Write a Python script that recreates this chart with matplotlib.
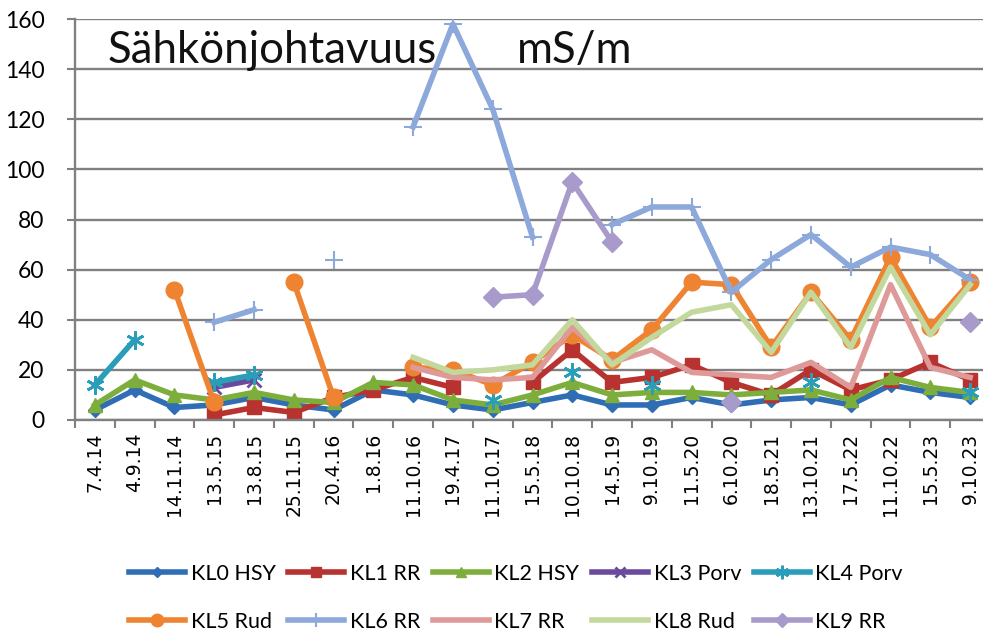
import numpy as np
import matplotlib
matplotlib.use("Agg")
import matplotlib.pyplot as plt
from matplotlib.ticker import MultipleLocator, FixedLocator

n = None

# sampling dates (x categories)
dates = ['7.4.14', '4.9.14', '14.11.14', '13.5.15', '13.8.15', '25.11.15', '20.4.16',
         '1.8.16', '11.10.16', '19.4.17', '11.10.17', '15.5.18', '10.10.18', '14.5.19',
         '9.10.19', '11.5.20', '6.10.20', '18.5.21', '13.10.21', '17.5.22', '11.10.22',
         '15.5.23', '9.10.23']

# conductivity, mS/m (None = no sample)
kl0_hsy = [4, 12, 5, 6, 9, 6, 4, 12, 10, 6, 4, 7, 10, 6, 6, 9, 6, 8, 9, 6, 14, 11, 9]
kl1_rr = [n, n, n, 2, 5, 3, 9, 12, 17, 13, n, 15, 28, 15, 17, 22, 15, 10, 20, 12, 16, 23, 16]
kl2_hsy = [6, 16, 10, 8, 11, 8, 7, 15, 14, 8, 6, 10, 15, 10, 11, 11, 10, 11, 12, 8, 17, 13, 11]
kl3_porv = [n, n, n, 13, 16, n, n, n, n, n, n, n, n, n, n, n, n, n, n, n, n, n, n]
kl4_porv = [14, 32, n, 15, 18, n, n, n, n, n, 8, n, 19, n, 14, n, n, n, 15, n, n, n, 11]
kl5_rud = [n, n, 52, 7, n, 55, 9, n, 21, 20, 14, 23, 34, 24, 36, 55, 54, 29, 51, 32, 65, 37, 55]
kl6_rr = [n, n, n, 39, 44, n, 64, n, 117, 158, 124, 73, n, 78, 85, 85, 51, 64, 74, 61, 69, 66, 56]
kl7_rr = [n, n, n, n, n, n, n, n, 21, 17, 16, 17, 37, 23, 28, 19, 18, 17, 23, 13, 54, 21, 17]
kl8_rud = [n, n, n, n, n, n, n, n, 25, 19, 20, 22, 40, 22, 33, 43, 46, 27, 51, 29, 61, 34, 54]
kl9_rr = [n, n, n, n, n, n, n, n, n, n, 49, 50, 95, 71, n, n, 7, n, n, n, n, n, 39]

series = [
    ('KL0 HSY', kl0_hsy, '#2F6DB5', dict(marker='D', ms=7)),
    ('KL1 RR', kl1_rr, '#B8322F', dict(marker='s', ms=10)),
    ('KL2 HSY', kl2_hsy, '#7DAE3C', dict(marker='^', ms=10)),
    ('KL3 Porv', kl3_porv, '#6A4A9C', dict(marker='x', ms=10, mew=2)),
    ('KL4 Porv', kl4_porv, '#2A9DB8', dict(marker=(6, 2, 0), ms=13, mew=2)),
    ('KL5 Rud', kl5_rud, '#EE8332', dict(marker='o', ms=12)),
    ('KL6 RR', kl6_rr, '#8DA8DA', dict(marker='+', ms=13, mew=1.5)),
    ('KL7 RR', kl7_rr, '#DE9A99', dict(marker='None')),
    ('KL8 Rud', kl8_rud, '#C3D89C', dict(marker='None')),
    ('KL9 RR', kl9_rr, '#A89BCB', dict(marker='D', ms=10)),
]

grid_col = '#808080'

fig = plt.figure(figsize=(9.83, 6.37), dpi=100)
fig.patch.set_facecolor('white')
# plot area runs a bit past the right edge, like the cropped original
ax = fig.add_axes([75 / 983, 1 - 420 / 637, 915 / 983, 401 / 637])

x = np.arange(len(dates))
handles = []
for name, vals, col, mk in series:
    y = np.array([np.nan if v is None else v for v in vals], dtype=float)
    h, = ax.plot(x, y, color=col, lw=4, label=name, solid_joinstyle='round',
                 markerfacecolor=col, markeredgecolor=col, **mk)
    handles.append(h)

ax.set_xlim(-0.5, len(dates) - 0.5)
ax.set_ylim(0, 160)
ax.yaxis.set_major_locator(MultipleLocator(20))
ax.grid(axis='y', color=grid_col, lw=1.7)
ax.set_axisbelow(True)

ax.set_xticks(x)
ax.set_xticklabels(dates, rotation=90, fontsize=13.5, family='DejaVu Sans')
ax.xaxis.set_minor_locator(FixedLocator(np.arange(-0.5, len(dates), 1.0)))
ax.tick_params(axis='x', which='major', length=0, pad=9)
ax.tick_params(axis='x', which='minor', length=6, width=1.5, color=grid_col)
ax.tick_params(axis='y', length=6, width=1.5, color=grid_col, pad=16)
for lab in ax.get_yticklabels():
    lab.set_family('Lato')
    lab.set_fontsize(16.5)

for s in ['top', 'right']:
    ax.spines[s].set_visible(False)
for s in ['left', 'bottom']:
    ax.spines[s].set_color(grid_col)
    ax.spines[s].set_linewidth(1.7)

ax.text(108 / 983, 1 - 63 / 637, 'Sähkönjohtavuus', transform=fig.transFigure,
        fontsize=31.5, family='Lato', va='baseline', ha='left', color='#111111')
ax.text(517 / 983, 1 - 63 / 637, 'mS/m', transform=fig.transFigure,
        fontsize=31.5, family='Lato', va='baseline', ha='left', color='#111111')

# legend fills row by row like the original: reorder for column-major layout
order = [0, 5, 1, 6, 2, 7, 3, 8, 4, 9]
leg = fig.legend([handles[i] for i in order], [series[i][0] for i in order],
                 loc='center', bbox_to_anchor=(516 / 983, 1 - 598 / 637), ncol=5,
                 frameon=False, prop={'family': 'Lato', 'size': 15.5},
                 handlelength=2.6, handletextpad=0.25, columnspacing=0.6,
                 labelspacing=1.3, markerscale=0.75)

fig.savefig('out.png', dpi=100, facecolor='white')
